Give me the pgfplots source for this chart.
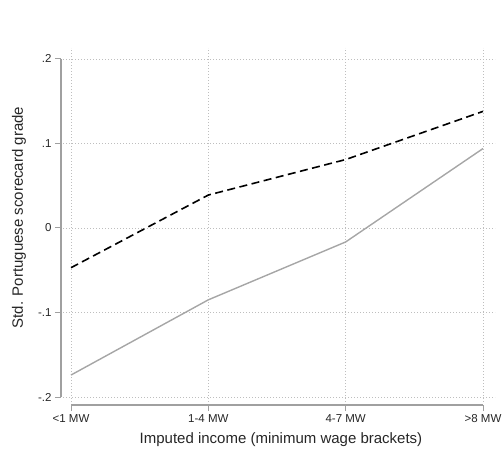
\documentclass[border=0pt]{standalone}
\usepackage{fontspec}
\setmainfont{Liberation Sans}
\usepackage{pgfplots}
\pgfplotsset{compat=1.18}

\definecolor{axisgray}{HTML}{A0A0A0}
\definecolor{gridgray}{HTML}{BEBEBE}
\definecolor{linegray}{HTML}{A6A6A6}

\begin{document}
\begin{tikzpicture}
\useasboundingbox (0,0) rectangle (503bp,455bp);
\begin{axis}[
  at={(63bp,53bp)}, anchor=south west,
  scale only axis, width=432bp, height=354bp,
  xmin=-0.0583, xmax=3.0874,
  ymin=-0.2059, ymax=0.2130,
  clip=false,
  axis line style={draw=none},
  xtick={0,1,2,3},
  xticklabels={<1 MW,1-4 MW,4-7 MW,>8 MW},
  ytick={-0.2,-0.1,0,0.1,0.2},
  yticklabels={-.2,-.1,0,.1,.2},
  xtick pos=bottom, ytick pos=left,
  tick align=outside,
  major tick length=6bp,
  x tick style={axisgray, line width=1bp, yshift=-3bp},
  y tick style={axisgray, line width=1bp, xshift=-2bp},
  xticklabel style={yshift=-3bp, font=\fontsize{11.5bp}{13bp}\selectfont, text=black!85},
  yticklabel style={xshift=-2bp, font=\fontsize{11.5bp}{13bp}\selectfont, text=black!85},
  grid=major,
  major grid style={gridgray, line width=0.7bp, dash pattern=on 0.8bp off 2.2bp},
  xlabel={Imputed income (minimum wage brackets)},
  ylabel={Std. Portuguese scorecard grade},
  xlabel style={at={(axis description cs:0.5046,-0.107)}, anchor=center,
    font=\fontsize{15bp}{18bp}\selectfont, text=black!85},
  ylabel style={at={(axis description cs:-0.1019,0.521)}, anchor=center, rotate=0,
    font=\fontsize{15bp}{18bp}\selectfont, text=black!85},
]
% offset axis lines
\draw[axisgray, line width=1.2bp] ([xshift=-2bp]axis cs:-0.0583,-0.2) -- ([xshift=-2bp]axis cs:-0.0583,0.2);
\draw[axisgray, line width=1.2bp] ([yshift=-3bp]axis cs:0,-0.2059) -- ([yshift=-3bp]axis cs:3,-0.2059);

% upper series (dashed)
\addplot[black, line width=1.6bp, dash pattern=on 8bp off 4.5bp] coordinates {
  (0,-0.047) (1,0.039) (2,0.081) (3,0.138)
};
% lower series (solid gray)
\addplot[linegray, line width=1.4bp] coordinates {
  (0,-0.174) (1,-0.085) (2,-0.0165) (3,0.094)
};
\end{axis}
\end{tikzpicture}
\end{document}
